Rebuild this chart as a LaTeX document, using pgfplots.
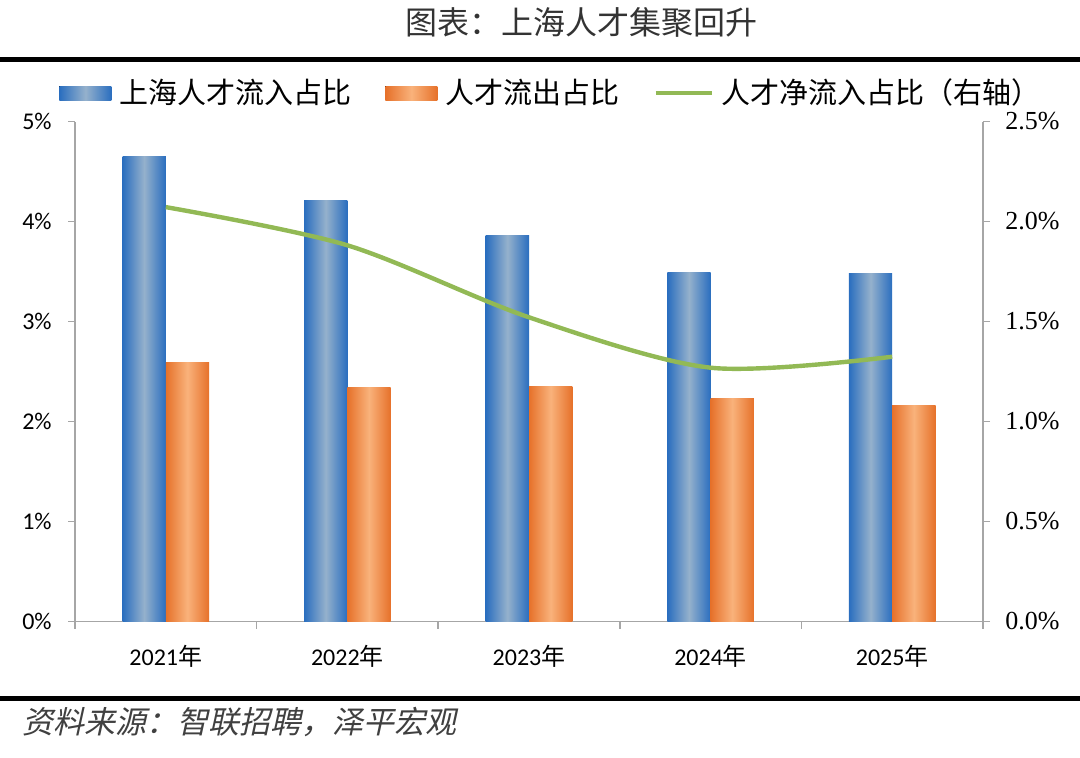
\documentclass[border=0pt]{standalone}
\usepackage{pgfplots}
\pgfplotsset{compat=1.18}
\usepackage{fontspec}
\setmainfont{Carlito}
\newfontfamily\cjk{Noto Sans CJK SC}
\newfontfamily\cjksl{Noto Sans CJK SC}[FakeSlant=0.22]
\newfontfamily\tnr{Liberation Serif}
\definecolor{bluedark}{HTML}{2A6EBF}
\definecolor{bluelight}{HTML}{95B1CC}
\definecolor{orangedark}{HTML}{E6712A}
\definecolor{orangelight}{HTML}{F9B27B}
\definecolor{linegreen}{HTML}{92B955}
\definecolor{axisgray}{HTML}{A6A6A6}
\definecolor{titlegray}{HTML}{333333}
\definecolor{srcgray}{HTML}{404040}
\newcommand{\nian}{{\cjk 年}}
\pgfplotsset{
  barlegend/.style={legend image code/.code={\fill[##1] (0pt,-3.5pt) rectangle (26pt,3.5pt);}},
  linelegend/.style={legend image code/.code={\draw[##1] (0pt,0pt) -- (28pt,0pt);}},
  bluebar/.style={ybar, bar width=21.65pt, bar shift=-10.825pt, draw=none,
    left color=bluedark, right color=bluedark, middle color=bluelight, barlegend},
  orangebar/.style={ybar, bar width=21.65pt, bar shift=10.825pt, draw=none,
    left color=orangedark, right color=orangedark, middle color=orangelight, barlegend},
}
\pgfplotstableread{
x net
0 2.072
1 1.881
2 1.521
3 1.269
4 1.324
}\nettable
\begin{document}
\begin{tikzpicture}
\begin{scope}[x=0.5pt,y=-0.5pt]
\path (0,0) rectangle (1080,757);
\fill[black] (0,57) rectangle (1080,62);
\fill[black] (0,696) rectangle (1080,701);
\node[text=titlegray, font=\cjk\fontsize{16}{16}\selectfont, inner sep=0pt] at (581,22) {图表：上海人才集聚回升};
\node[anchor=west, text=srcgray, font=\cjksl\fontsize{15.5}{15.5}\selectfont, inner sep=0pt] at (22,722) {资料来源：智联招聘，泽平宏观};
\end{scope}
\begin{axis}[
  at={(37.5pt,-310.75pt)}, anchor=south west,
  scale only axis, width=454pt, height=250pt,
  xmin=-0.5, xmax=4.5, ymin=0, ymax=5,
  axis x line*=bottom, axis y line*=left,
  axis line style={draw=axisgray, line width=0.75pt, -},
  xtick={-0.5,0.5,1.5,2.5,3.5,4.5},
  x tick label as interval,
  xticklabels={2021\nian,2022\nian,2023\nian,2024\nian,2025\nian},
  ytick={0,1,2,3,4,5},
  yticklabels={0\%,1\%,2\%,3\%,4\%,5\%},
  tick align=outside,
  major tick length=3.5pt,
  tick style={draw=axisgray, line width=0.75pt},
  xticklabel style={font=\fontsize{12}{12}\selectfont, inner sep=0pt, yshift=-8pt, text=black},
  yticklabel style={font=\fontsize{12}{12}\selectfont, inner sep=0pt, xshift=-8pt, text=black},
  legend columns=3,
  legend cell align=left,
  legend style={at={(-0.0176,1.057)}, anchor=west, draw=none, fill=none,
    font=\cjk\fontsize{14.5}{14.5}\selectfont, inner sep=0pt,
    nodes={inner sep=0pt},
    /tikz/every odd column/.append style={column sep=4pt},
    /tikz/every even column/.append style={column sep=17pt}},
]
\addplot[bluebar] coordinates {(0,4.655)};
\addlegendentry{上海人才流入占比}
\addplot[orangebar] coordinates {(0,2.59)};
\addlegendentry{人才流出占比}
\addlegendimage{linegreen, line width=2.2pt, linelegend}
\addlegendentry{人才净流入占比（右轴）}
\addplot[bluebar, forget plot] coordinates {(1,4.215)};
\addplot[bluebar, forget plot] coordinates {(2,3.865)};
\addplot[bluebar, forget plot] coordinates {(3,3.49)};
\addplot[bluebar, forget plot] coordinates {(4,3.48)};
\addplot[orangebar, forget plot] coordinates {(1,2.34)};
\addplot[orangebar, forget plot] coordinates {(2,2.355)};
\addplot[orangebar, forget plot] coordinates {(3,2.23)};
\addplot[orangebar, forget plot] coordinates {(4,2.165)};
\end{axis}
\begin{axis}[
  at={(37.5pt,-310.75pt)}, anchor=south west,
  scale only axis, width=454pt, height=250pt,
  xmin=-0.5, xmax=4.5, ymin=0, ymax=2.5,
  axis y line*=right, axis x line=none,
  axis line style={draw=axisgray, line width=0.75pt, -},
  ytick={0,0.5,1,1.5,2,2.5},
  yticklabels={0.0\%,0.5\%,1.0\%,1.5\%,2.0\%,2.5\%},
  tick align=outside,
  major tick length=3.5pt,
  tick style={draw=axisgray, line width=0.75pt},
  yticklabel style={font=\tnr\fontsize{13}{13}\selectfont, inner sep=0pt, xshift=7.5pt, text=black},
]
\addplot[linegreen, line width=2.2pt, smooth, mark=none] table[x=x, y=net] {\nettable};
\end{axis}
\end{tikzpicture}
\end{document}
